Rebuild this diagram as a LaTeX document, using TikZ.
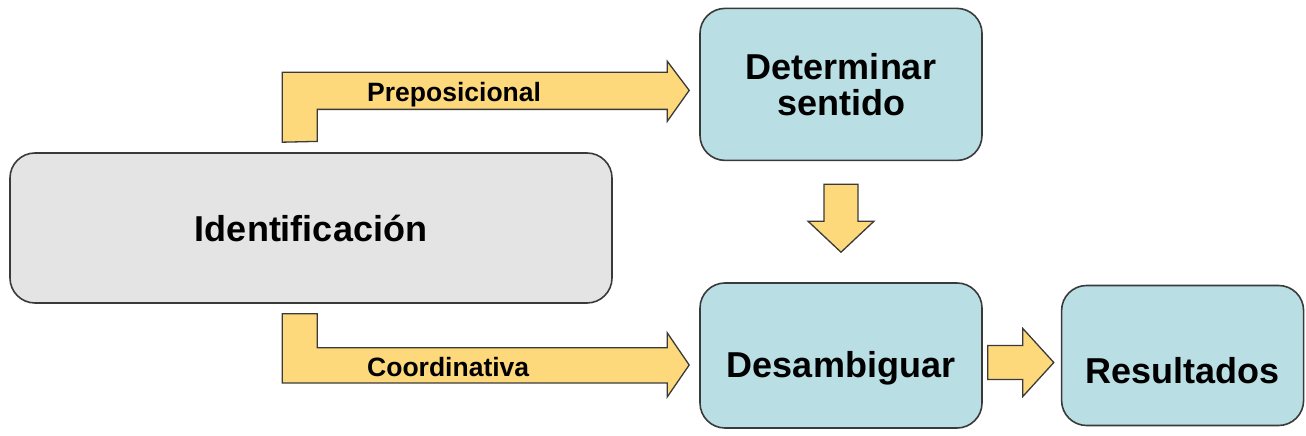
\documentclass[tikz,border=0pt]{standalone}
\usepackage{fontspec}
\setmainfont{Liberation Sans}
\usetikzlibrary{positioning,calc}

\definecolor{cajaazul}{HTML}{B9DFE4}
\definecolor{cajagris}{HTML}{E4E4E4}
\definecolor{flecha}{HTML}{FDD97C}
\definecolor{borde}{HTML}{3A3A3A}

\tikzset{
  caja/.style={draw=borde, line width=1.6pt, rounded corners=25pt, fill=cajaazul,
    font=\bfseries\fontsize{36}{36}\selectfont, align=center, inner sep=0pt},
  bloque/.style={draw=borde, line width=1.3pt, fill=flecha, line join=miter},
  etiqueta/.style={font=\bfseries\fontsize{26.5}{30}\selectfont, anchor=base west, inner sep=0pt}
}

\begin{document}
\begin{tikzpicture}[x=1pt,y=1pt]
\useasboundingbox (0,0) rectangle (1306,436);

% cajas
\node[caja, fill=cajagris, minimum width=602pt, minimum height=150pt] (ident) at (311,208) {Identificaci\'on};
\node[caja, minimum width=282pt, minimum height=145pt, text height=45pt, text depth=0pt] (des) at (841,80.5) {Desambiguar};
\node[caja, minimum width=282pt, minimum height=152pt, above=121pt of des] (det) {Determinar\\sentido};
\node[caja, minimum width=242pt, minimum height=140pt, text height=57pt, text depth=0pt, right=78pt of des] (res) {Resultados};

% flechas de bloque
\draw[bloque] ($(ident.north west)+(273,10)$) -- ++(0,70) -- ++(385,0) -- ++(0,11)
  -- ($(det.west)+(-10,-6)$) -- ++(-22,-31) -- ++(0,12) -- ++(-350,0) -- ++(0,-32) -- cycle;
\draw[bloque] ($(ident.south west)+(273,-10)$) -- ++(35,0) -- ++(0,-34) -- ++(350,0) -- ++(0,15)
  -- ($(des.west)+(-10,-9.5)$) -- ++(-22,-32) -- ++(0,14) -- ++(-385,0) -- cycle;
\draw[bloque] ($(det.south)+(-17,-23)$) -- ++(34,0) -- ++(0,-37) -- ++(16,0)
  -- ($(des.north)+(0,30)$) -- ++(-33,31) -- ++(16,0) -- cycle;
\draw[bloque] ($(des.east)+(5,10)$) -- ++(35,0) -- ++(0,17)
  -- ($(res.west)+(-7,-7)$) -- ++(-31,-34) -- ++(0,17) -- ++(-35,0) -- cycle;

% etiquetas
\node[etiqueta] (prep) at (367,334) {Preposicional};
\node[etiqueta] (coord) at (367,59) {Coordinativa};

\end{tikzpicture}
\end{document}
